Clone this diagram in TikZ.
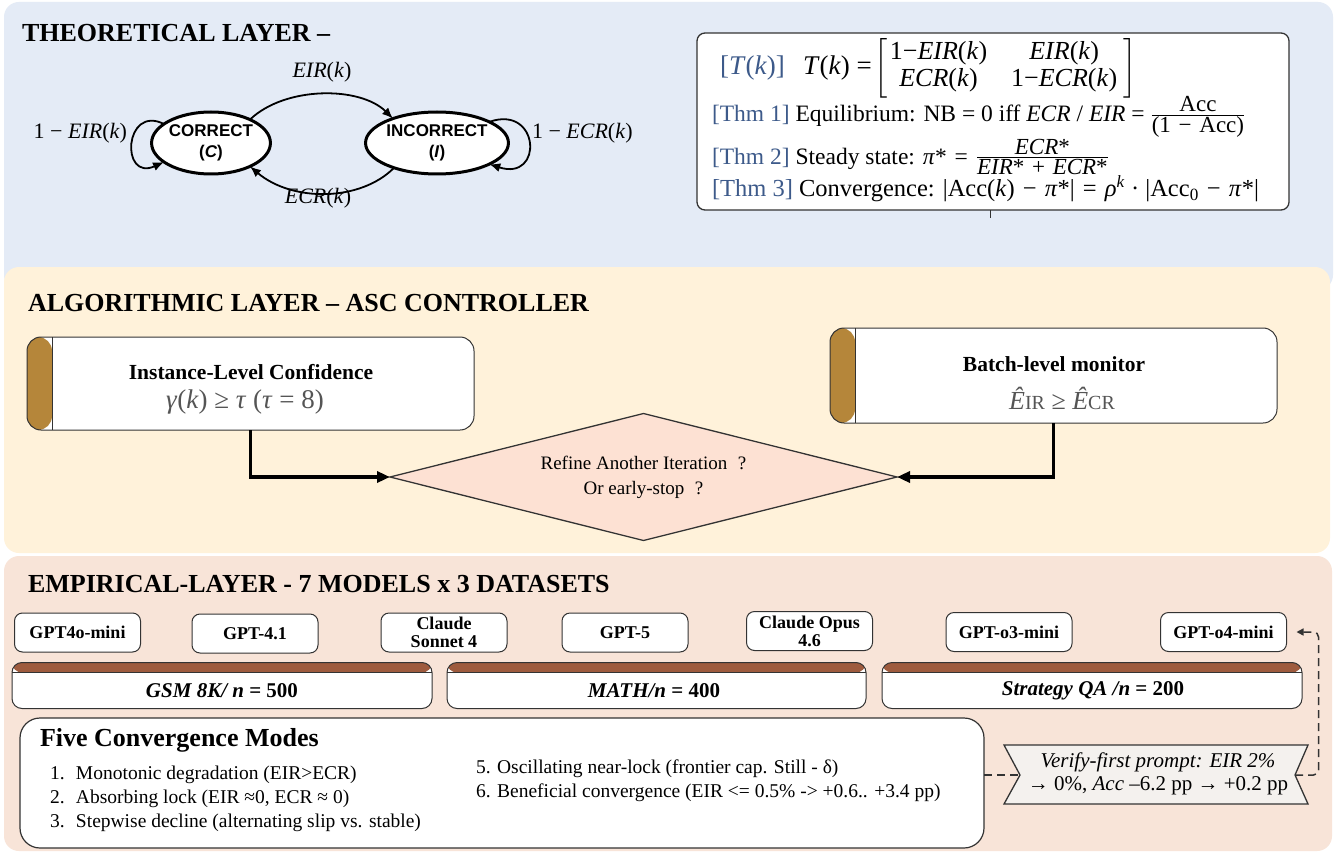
\documentclass[tikz,border=0pt]{standalone}
\usepackage{amsmath}
\usepackage{fontspec}
\setmainfont{Liberation Serif}
\setsansfont{Liberation Sans}
\usetikzlibrary{shapes.geometric,arrows.meta,calc}
\definecolor{bluebg}{HTML}{E4EBF6}
\definecolor{yellowbg}{HTML}{FFF2DA}
\definecolor{peachbg}{HTML}{F8E4D8}
\definecolor{barbrown}{HTML}{B5863A}
\definecolor{dsbrown}{HTML}{9E5B3E}
\definecolor{diafill}{HTML}{FDE1D3}
\definecolor{lblue}{HTML}{3D5A8A}
\definecolor{txtgray}{HTML}{555555}
\definecolor{edge}{HTML}{333333}
\definecolor{banfill}{HTML}{F4F1EE}
\newcommand{\fsz}[2]{\fontsize{#1}{#2}\selectfont}
\newcommand{\iv}[1]{\textit{#1}}
\newcommand{\tfr}[2]{$\frac{\text{\fsz{23}{23}#1}}{\text{\fsz{23}{23}#2}}$}
\newcommand{\op}[1]{\hspace{2pt}#1\hspace{2pt}}
\begin{document}
\begin{tikzpicture}[x=1pt,y=-1pt,
  every node/.style={inner sep=0pt,outer sep=0pt},
  layertitle/.style={anchor=west,font=\fsz{26}{30}\bfseries},
  statenode/.style={ellipse,draw,line width=3pt,fill=white,align=center,font=\sffamily\bfseries\fsz{17}{21}},
  arc/.style={line width=1.8pt,-{Latex[length=11pt,width=9pt]}},
  ctrlbox/.style={draw=edge,line width=1pt,fill=white,rounded corners=14pt,
     path picture={\fill[barbrown] (path picture bounding box.north west) rectangle ([xshift=25pt]path picture bounding box.south west);
       \draw[edge,line width=1pt] ([xshift=25pt]path picture bounding box.north west) -- ([xshift=25pt]path picture bounding box.south west);}},
  ctrltitle/.style={font=\bfseries\fsz{21.5}{24}},
  flow/.style={line width=3.5pt,-{Triangle[length=13pt,width=11pt]}},
  modelbox/.style={draw=edge,line width=1pt,fill=white,rounded corners=8pt,minimum width=126pt,minimum height=39pt,align=center,font=\bfseries\fsz{18}{18}},
  dsbox/.style={draw=edge,line width=1pt,fill=white,rounded corners=10pt,minimum height=46pt,
     path picture={\fill[dsbrown] (path picture bounding box.north west) rectangle ([yshift=-10pt]path picture bounding box.north east);
       \draw[edge,line width=0.6pt] ([yshift=-10pt]path picture bounding box.north west) -- ([yshift=-10pt]path picture bounding box.north east);}},
  dstext/.style={font=\bfseries\fsz{21}{24}},
  formula/.style={anchor=west,font=\fsz{23.5}{27}},
  dashconn/.style={line width=1.5pt,dash pattern=on 8pt off 5pt,draw=edge}
]
\useasboundingbox (0,0) rectangle (1340,853);
\fill[white] (0,0) rectangle (1340,853);
% panels
\fill[bluebg,rounded corners=15pt] (4,2) rectangle (1333,290);
\fill[yellowbg,rounded corners=15pt] (4,267) rectangle (1330,553);
\fill[peachbg,rounded corners=15pt] (4,556) rectangle (1332,851);

% ---------------- theoretical layer
\node[layertitle] (t1) at (22,33) {THEORETICAL LAYER –};
\node[statenode,minimum width=110pt,minimum height=62pt] (C) at (211,143) {CORRECT\\(\textit{C})};
\node[statenode,minimum width=130pt,minimum height=62pt] (I) at (437,143) {INCORRECT\\(\textit{I})};
\draw[arc] (C.31) .. controls (285,86) and (360,86) .. (I.151);
\draw[arc] (I.210) .. controls (360,202) and (292,202) .. (C.329);
\draw[arc] (C.158) .. controls (124,104) and (120,182) .. (C.202);
\draw[arc] (I.22) .. controls (540,104) and (544,182) .. (I.-22);
\node[font=\fsz{22}{26}] (leir) at (322,72) {\iv{EIR}(\iv{k})};
\node[font=\fsz{22}{26}] (lecr) at (318,198) {\iv{ECR}(\iv{k})};
\node[font=\fsz{22}{26},anchor=east] (lself1) at (127,133) {1 − \iv{EIR}(\iv{k})};
\node[font=\fsz{22}{26},anchor=west] (lself2) at (532,133) {1 − \iv{ECR}(\iv{k})};

% formula box
\node[draw=edge,line width=1.3pt,fill=white,rounded corners=8pt,minimum width=592pt,minimum height=177pt] (F) at (993,121.5) {};
\draw[edge,line width=1pt] ([xshift=-3pt]F.south) -- ++(0,8);
\node[anchor=west,font=\fsz{27}{30},text=lblue] (r1l) at (720,68) {[\iv{T}(\iv{k})]};
\node[anchor=west,font=\fsz{27}{27}] (r1) at (803,68) {\iv{T}(\iv{k}) =\hspace{-4pt} $\left[\vcenter{\hbox{\fsz{26}{27}\begin{tabular}{@{\hspace{2pt}}c@{\hspace{24pt}}c@{\hspace{6pt}}}1−\iv{EIR}(\iv{k}) & \iv{EIR}(\iv{k})\\ \iv{ECR}(\iv{k}) & 1−\iv{ECR}(\iv{k})\end{tabular}}}\right]$};
\node[formula] (r2) at (712,117) {\textcolor{lblue}{[Thm 1]} Equilibrium: NB = 0 iff \iv{ECR} / \iv{EIR} = \tfr{Acc}{(1 \op{−} Acc)}};
\node[formula] (r3) at (712,157) {\textcolor{lblue}{[Thm 2]} Steady state: \iv{π}* \op{=} \tfr{\iv{ECR}*}{\iv{EIR}* \op{+} \iv{ECR}*}};
\node[formula,font=\fsz{24.5}{27}] (r4) at (712,189) {\textcolor{lblue}{[Thm 3]} Convergence: |Acc(\iv{k}) \op{−} \iv{π}*| \op{=} \iv{ρ}\textsuperscript{\iv{k}} · |Acc\textsubscript{0} \op{−} \iv{π}*|};

% ---------------- algorithmic layer
\node[layertitle] (t2) at (28,303) {ALGORITHMIC LAYER – ASC CONTROLLER};
\node[ctrlbox,minimum width=447pt,minimum height=93pt] (inst) at (250.5,383.5) {};
\node[ctrltitle] (instt) at (251,372) {Instance-Level Confidence};
\node[text=txtgray,font=\fsz{27}{30}] (instf) at (245,402) {\iv{γ}(\iv{k}) ≥ \iv{τ} (\iv{τ} = 8)};
\node[ctrlbox,minimum width=447pt,minimum height=95pt] (batch) at (1053.5,375.5) {};
\node[ctrltitle] (batcht) at (1054,364) {Batch-level monitor};
\node[text=txtgray,font=\fsz{26}{28}] (batchf) at (1062,398) {\iv{Ê}{\fsz{20}{20}IR} ≥ \iv{Ê}{\fsz{20}{20}CR}};
\node[diamond,aspect=4,draw=edge,line width=1.3pt,fill=diafill,minimum width=507pt,minimum height=127pt,align=center,font=\fsz{19}{25}] (D) at (643.5,477)
  {Refine Another Iteration\;\;?\\Or early-stop\;\;?};
\draw[flow] (inst.south) |- (D.west);
\draw[flow] (batch.south) |- (D.east);

% ---------------- empirical layer
\node[layertitle] (t3) at (28,584) {EMPIRICAL-LAYER - 7 MODELS x 3 DATASETS};
\node[modelbox] (m1) at (77.5,632.5) {GPT4o-mini};
\node[modelbox] (m2) at (255,633.5) {GPT-4.1};
\node[modelbox] (m3) at (444,632.5) {Claude\\Sonnet 4};
\node[modelbox] (m4) at (625,632.5) {GPT-5};
\node[modelbox] (m5) at (809.5,631) {Claude Opus\\4.6};
\node[modelbox] (m6) at (1009,632) {GPT-o3-mini};
\node[modelbox] (m7) at (1223.5,632) {GPT-o4-mini};

\node[dsbox,minimum width=420pt] (d1) at (222,685.5) {};
\node[dsbox,minimum width=419pt] (d2) at (656.5,685.5) {};
\node[dsbox,minimum width=420pt] (d3) at (1092,685.5) {};
\node[dstext] (d1t) at (222,690.5) {\itshape GSM 8K/ n \upshape= 500};
\node[dstext] (d2t) at (654,690.5) {\itshape MATH/n \upshape= 400};
\node[dstext] (d3t) at (1093,690.5) {\itshape Strategy QA /n \upshape= 200};

% five modes
\node[draw=edge,line width=1.2pt,fill=white,rounded corners=20pt,minimum width=964pt,minimum height=130pt] (modes) at (502,783) {};
\node[anchor=west,font=\bfseries\fsz{26}{28}] (mt) at (40,740) {Five Convergence Modes};
\node[anchor=west,font=\fsz{19.5}{24},align=left] (mi) at (50,798.5)
  {\makebox[26pt][l]{1.}Monotonic degradation (EIR>ECR)\\
   \makebox[26pt][l]{2.}Absorbing lock (EIR ≈0, ECR ≈ 0)\\
   \makebox[26pt][l]{3.}Stepwise decline (alternating slip vs. stable)};
\node[anchor=west,font=\fsz{19.5}{24},align=left] (mj) at (476,781)
  {5. Oscillating near-lock (frontier cap. Still - δ)\\
   6. Beneficial convergence (EIR <= 0.5\% -> +0.6.. +3.4 pp)};

% banner
\coordinate (VL) at (1020,775);
\coordinate (VR) at (1295,775);
\draw[edge,line width=1.3pt,fill=banfill] (1004,745) -- (1308,745) -- (VR) -- (1308,804) -- (1004,804) -- (VL) -- cycle;
\node[font=\fsz{21}{23},align=center] (V) at (1158,774)
  {\itshape Verify-first prompt: EIR 2\%\\ → 0\%, \iv{Acc} –6.2 pp → +0.2 pp};
\draw[dashconn] (modes.east |- VL) -- (VL);
\draw[dashconn,rounded corners=5pt,-{Triangle[length=7pt,width=7pt]},shorten >=10pt] (VR) -| ([xshift=32pt]m7.east) -- (m7.east);
\end{tikzpicture}
\end{document}
